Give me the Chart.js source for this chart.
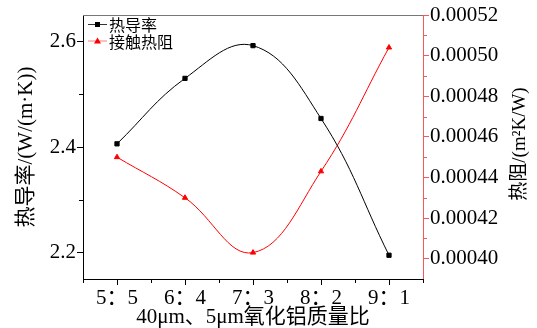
<!DOCTYPE html>
<html><head><meta charset="utf-8">
<script src="https://cdn.jsdelivr.net/npm/chart.js@4"></script>
<style>html,body{margin:0;padding:0;background:#fff}</style>
</head><body>
<canvas id="c" width="537" height="328" style="width:537px;height:328px;display:block"></canvas>
<script>
// Mass ratio of 40μm : 5μm alumina
const ratios = ['5：5', '6：4', '7：3', '8：2', '9：1'];
// Thermal conductivity, W/(m·K)
const conductivity = [2.406, 2.530, 2.592, 2.454, 2.195];
// Contact thermal resistance, m²K/W
const contactResistance = [0.000450, 0.000430, 0.000403, 0.000443, 0.000504];
const leftTicks = [2.2, 2.4, 2.6];
const leftMinor = [2.3, 2.5];
const rightTicks = [0.00040, 0.00042, 0.00044, 0.00046, 0.00048, 0.00050, 0.00052];
const rightMinor = [0.00041, 0.00043, 0.00045, 0.00047, 0.00049, 0.00051];
const seriesNames = ['热导率', '接触热阻'];
const rightTitle = '热阻/(m²K/W)';

const SERIF = "'Liberation Serif', 'Times New Roman', 'Noto Sans CJK SC', serif";
const RED = '#ff0000';
const RED_AXIS = '#f25a5a';

// short ticks between the labelled ones, the top frame edge and the right axis title
const minorTicks = {
  id: 'minorTicks',
  afterDraw(chart) {
    const {ctx, scales} = chart;
    ctx.save();
    ctx.lineWidth = 1;
    const x = scales.x, y = scales.y, y1 = scales.y1;
    ctx.strokeStyle = '#000';
    ctx.beginPath();
    for (let i = -0.5; i < ratios.length; i += 1) {
      const px = Math.round(x.getPixelForValue(i)) + 0.5;
      ctx.moveTo(px, x.top); ctx.lineTo(px, x.top + 4);
    }
    leftMinor.forEach(v => {
      const py = Math.round(y.getPixelForValue(v)) + 0.5;
      ctx.moveTo(y.right, py); ctx.lineTo(y.right - 4, py);
    });
    ctx.stroke();
    ctx.strokeStyle = RED_AXIS;
    ctx.beginPath();
    rightMinor.forEach(v => {
      const py = Math.round(y1.getPixelForValue(v)) + 0.5;
      ctx.moveTo(y1.left, py); ctx.lineTo(y1.left + 4, py);
    });
    ctx.stroke();
    const a = chart.chartArea;
    ctx.strokeStyle = '#777';
    ctx.beginPath();
    ctx.moveTo(a.left, Math.round(a.top) + 0.5); ctx.lineTo(a.right, Math.round(a.top) + 0.5);
    ctx.stroke();
    // right axis title, reading bottom to top like the left one
    ctx.translate(y1.right - 17, (a.top + a.bottom) / 2 - 3);
    ctx.rotate(-Math.PI / 2);
    ctx.font = '19px ' + SERIF;
    ctx.fillStyle = '#000';
    ctx.textAlign = 'center';
    ctx.textBaseline = 'middle';
    ctx.fillText(rightTitle, 0, 0);
    ctx.restore();
  }
};

// line-and-marker legend in the upper left of the plot
const lineLegend = {
  id: 'lineLegend',
  afterDraw(chart) {
    const {ctx, chartArea: a} = chart;
    const items = [
      {name: seriesNames[0], line: '#333', fill: '#000', shape: 'rect'},
      {name: seriesNames[1], line: '#ff7a7a', fill: RED, shape: 'tri'}
    ];
    ctx.save();
    ctx.font = "16px 'Noto Sans CJK SC', sans-serif";
    ctx.textBaseline = 'middle';
    items.forEach((it, k) => {
      const cy = a.top + 9 + k * 16.5;
      const x0 = a.left + 5, x1 = a.left + 24, mx = (x0 + x1) / 2;
      ctx.strokeStyle = it.line; ctx.lineWidth = 1;
      ctx.beginPath(); ctx.moveTo(x0, cy + 0.5); ctx.lineTo(x1, cy + 0.5); ctx.stroke();
      ctx.fillStyle = it.fill;
      if (it.shape === 'rect') {
        ctx.fillRect(mx - 2.5, cy - 2, 5, 5);
      } else {
        ctx.beginPath(); ctx.moveTo(mx, cy - 3); ctx.lineTo(mx + 3.5, cy + 3); ctx.lineTo(mx - 3.5, cy + 3); ctx.closePath(); ctx.fill();
      }
      ctx.fillStyle = '#000';
      ctx.fillText(it.name, a.left + 26, cy + 1);
    });
    ctx.restore();
  }
};

new Chart(document.getElementById('c'), {
  type: 'line',
  data: {
    labels: ratios,
    datasets: [
      {
        label: seriesNames[0], data: conductivity, yAxisID: 'y',
        borderColor: '#000', backgroundColor: '#000', borderWidth: 1,
        tension: 0.4, pointStyle: 'rect', pointRadius: 3, pointBorderWidth: 1
      },
      {
        label: seriesNames[1], data: contactResistance, yAxisID: 'y1',
        borderColor: RED, backgroundColor: RED, borderWidth: 1,
        tension: 0.4, pointStyle: 'triangle', pointRadius: 3, pointBorderWidth: 1
      }
    ]
  },
  options: {
    responsive: false,
    animation: false,
    layout: {padding: {top: 15, left: 0, right: 0, bottom: 0}},
    plugins: {legend: {display: false}, tooltip: {enabled: false}},
    scales: {
      x: {
        type: 'category', offset: true,
        grid: {drawOnChartArea: false, tickLength: 6, color: '#000'},
        border: {color: '#000', width: 1},
        ticks: {color: '#000', font: {family: SERIF, size: 21}, padding: 1, maxRotation: 0, autoSkip: false},
        title: {display: true, text: '40μm、5μm氧化铝质量比', color: '#000',
                font: {family: SERIF, size: 21, lineHeight: 1}, padding: {top: 0, bottom: 0}},
        afterFit(s) { s.height = 49; }
      },
      y: {
        position: 'left', min: 2.15, max: 2.65,
        afterBuildTicks(s) { s.ticks = leftTicks.map(v => ({value: v})); },
        grid: {drawOnChartArea: false, tickLength: 6, color: '#000'},
        border: {color: '#000', width: 1},
        ticks: {color: '#000', font: {family: SERIF, size: 21}, padding: 1, callback: v => v.toFixed(1)},
        title: {display: true, text: '热导率/(W/(m·K))', color: '#000',
                font: {family: SERIF, size: 21, lineHeight: 1.2}, padding: {top: 14, bottom: 0}},
        afterFit(s) { s.width = 83; }
      },
      y1: {
        position: 'right', min: 0.00039, max: 0.00052,
        afterBuildTicks(s) { s.ticks = rightTicks.map(v => ({value: v})); },
        grid: {drawOnChartArea: false, tickLength: 6, color: RED_AXIS},
        border: {color: RED_AXIS, width: 1},
        ticks: {color: '#000', font: {family: SERIF, size: 21}, padding: 1, callback: v => v.toFixed(5)},
        title: {display: false},
        afterFit(s) { s.width = 114; }
      }
    }
  },
  plugins: [minorTicks, lineLegend]
});
</script>
</body></html>
